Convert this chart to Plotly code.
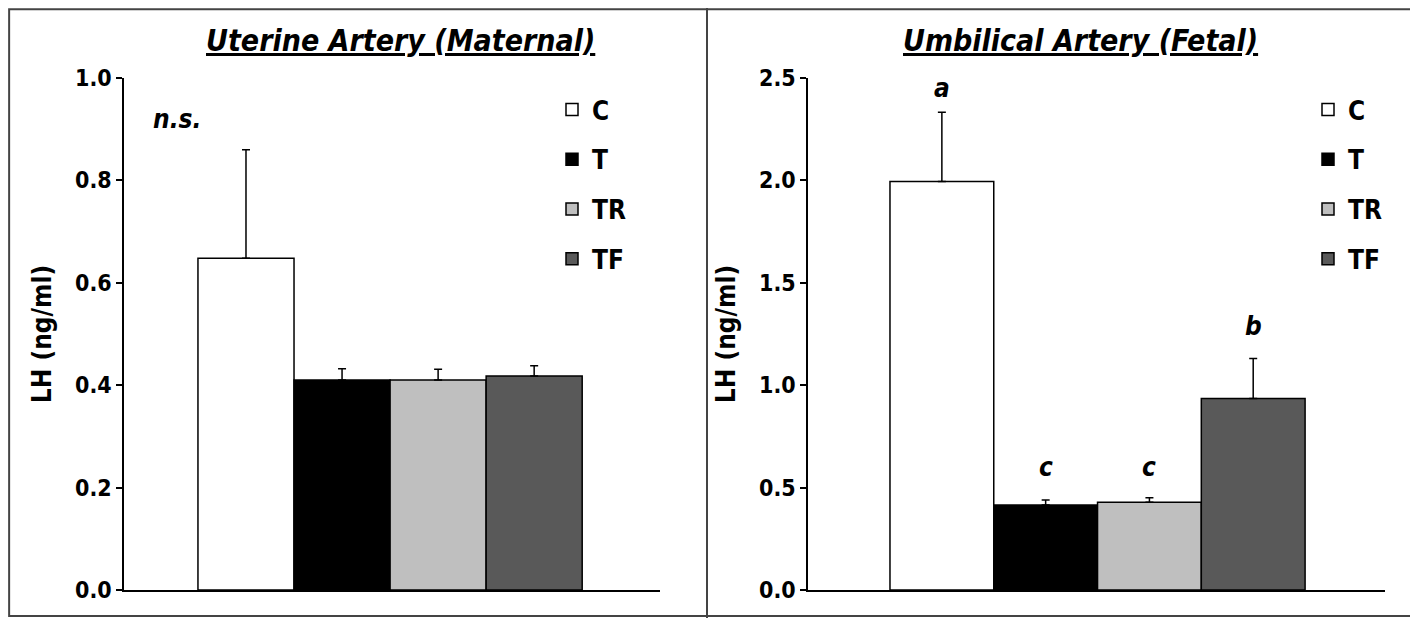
import plotly.graph_objects as go

groups = ["C", "T", "TR", "TF"]
colors = ["#ffffff", "#000000", "#bfbfbf", "#595959"]

uterine_vals = [0.648, 0.410, 0.410, 0.418]
uterine_err = [0.212, 0.022, 0.021, 0.020]

umbilical_vals = [1.995, 0.415, 0.428, 0.935]
umbilical_err = [0.338, 0.025, 0.022, 0.195]
umbilical_letters = ["a", "c", "c", "b"]
umbilical_letter_y = [2.45, 0.60, 0.60, 1.29]

left_title = "Uterine Artery (Maternal)"
right_title = "Umbilical Artery (Fetal)"
ytitle = "LH (ng/ml)"

FONT = "DejaVu Sans Condensed, Liberation Sans Narrow, Liberation Sans, Arial"

W, H, OFF = 1418, 618, 8  # page body margin offset


def px(x):
    return (x - OFF) / W


def py(y):
    return 1 - (y - OFF) / H


fig = go.Figure()

for i, g in enumerate(groups):
    fig.add_trace(go.Bar(
        x=[i], y=[uterine_vals[i]], name="<b>" + g + "</b>", width=1,
        marker=dict(color=colors[i], line=dict(color="#000000", width=1.5)),
        error_y=dict(type="data", array=[uterine_err[i]], arrayminus=[0], symmetric=False,
                     color="#000000", thickness=1.5, width=4),
        xaxis="x", yaxis="y", legend="legend", legendgroup="L" + g,
    ))
for i, g in enumerate(groups):
    fig.add_trace(go.Bar(
        x=[i], y=[umbilical_vals[i]], name="<b>" + g + "</b>", width=1,
        marker=dict(color=colors[i], line=dict(color="#000000", width=1.5)),
        error_y=dict(type="data", array=[umbilical_err[i]], arrayminus=[0], symmetric=False,
                     color="#000000", thickness=1.5, width=4),
        xaxis="x2", yaxis="y2", legend="legend2", legendgroup="R" + g,
    ))

ydom = [py(590), py(78)]
axis_common = dict(showline=True, linecolor="#000000", linewidth=1.5, showgrid=False, zeroline=False)
ytick = dict(ticks="outside", ticklen=6, tickwidth=1.5, tickcolor="#000000",
             tickfont=dict(size=23, family=FONT, weight="bold"), tickformat=".1f")
legend_common = dict(xanchor="left", yanchor="top",
                     font=dict(size=26, family=FONT), tracegroupgap=13, itemwidth=30,
                     bgcolor="rgba(0,0,0,0)", traceorder="grouped")
fig.update_layout(
    width=W, height=H,
    margin=dict(l=0, r=0, t=0, b=0, autoexpand=False),
    paper_bgcolor="#ffffff", plot_bgcolor="#ffffff",
    barmode="overlay",
    font=dict(family=FONT, color="#000000"),
    xaxis=dict(domain=[px(124), px(660)], range=[-1.27, 4.31], showticklabels=False,
               ticks="", **axis_common),
    yaxis=dict(domain=ydom, range=[0, 1.0], dtick=0.2,
               title=dict(text="<b>" + ytitle + "</b>", font=dict(size=26, family=FONT), standoff=16),
               automargin=False, **ytick, **axis_common),
    xaxis2=dict(domain=[px(808), px(1385)], range=[-1.29, 4.27], showticklabels=False,
                ticks="", anchor="y2", **axis_common),
    yaxis2=dict(domain=ydom, range=[0, 2.5], dtick=0.5, anchor="x2",
                title=dict(text="<b>" + ytitle + "</b>", font=dict(size=26, family=FONT), standoff=16),
                automargin=False, **ytick, **axis_common),
    legend=dict(x=px(552), y=py(86), **legend_common),
    legend2=dict(x=px(1308), y=py(86), **legend_common),
    showlegend=True,
)

annotations = [
    dict(text="<b><i><u>" + left_title + "</u></i></b>", xref="paper", yref="paper",
         x=px(400), y=py(40), xanchor="center", yanchor="middle", showarrow=False,
         font=dict(size=30, family=FONT)),
    dict(text="<b><i><u>" + right_title + "</u></i></b>", xref="paper", yref="paper",
         x=px(1080), y=py(40), xanchor="center", yanchor="middle", showarrow=False,
         font=dict(size=30, family=FONT)),
    dict(text="<b><i>n.s.</i></b>", xref="x", yref="y", x=-0.72, y=0.92, showarrow=False,
         yanchor="middle", font=dict(size=26, family=FONT)),
]
for i, letter in enumerate(umbilical_letters):
    annotations.append(dict(text="<b><i>" + letter + "</i></b>", xref="x2", yref="y2", x=i,
                            y=umbilical_letter_y[i], yanchor="middle",
                            showarrow=False, font=dict(size=26, family=FONT)))
fig.update_layout(annotations=annotations)

fig.update_layout(shapes=[
    dict(type="rect", xref="paper", yref="paper", x0=0.0008, y0=py(616), x1=px(1414), y1=0.998,
         line=dict(color="#444444", width=2)),
    dict(type="line", xref="paper", yref="paper", x0=px(707), x1=px(707), y0=0, y1=1,
         line=dict(color="#444444", width=2)),
])

fig.write_html("out.html")
